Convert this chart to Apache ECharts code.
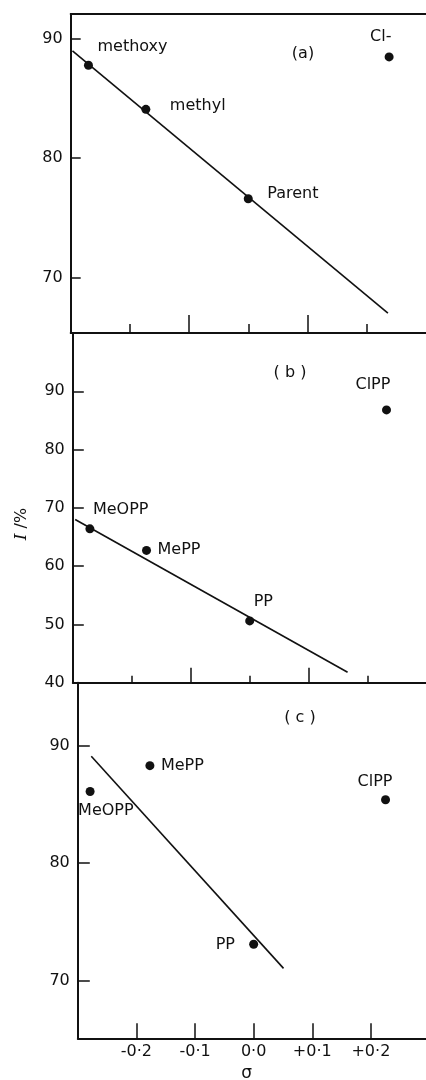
<!DOCTYPE html>
<html>
<head>
<meta charset="utf-8">
<script src="https://cdn.jsdelivr.net/npm/echarts@6/dist/echarts.min.js"></script>
<style>
  html, body { margin: 0; padding: 0; background: #fff; }
  #chart { width: 426px; height: 1080px; }
</style>
</head>
<body>
<div id="chart"></div>
<script>
// data
var sigmaTicks = [-0.2, -0.1, 0, 0.1, 0.2];

var namesA = ['methoxy', 'methyl', 'Parent', 'Cl-'];
var sigmaA = [-0.27, -0.173, 0.0, 0.238];
var valuesA = [87.8, 84.1, 76.6, 88.5];
var fitSigmaA = [-0.297, 0.236];
var fitValuesA = [89.0, 67.0];
var yTicksA = [70, 80, 90];

var namesB = ['MeOPP', 'MePP', 'PP', 'ClPP'];
var sigmaB = [-0.271, -0.175, 0.0, 0.232];
var valuesB = [66.4, 62.7, 50.6, 86.8];
var fitSigmaB = [-0.296, 0.166];
var fitValuesB = [68.0, 41.8];
var yTicksB = [50, 60, 70, 80, 90];
var yLabelsB = [40, 50, 60, 70, 80, 90];

var namesC = ['MeOPP', 'MePP', 'PP', 'ClPP'];
var sigmaC = [-0.279, -0.177, 0.0, 0.225];
var valuesC = [86.1, 88.3, 73.1, 85.4];
var fitSigmaC = [-0.277, 0.051];
var fitValuesC = [89.1, 71.05];
var yTicksC = [70, 80, 90];

// label offsets (px) from each point
var offA = [[9, -18], [24, -3], [19, -5], [-19, -20]];
var offB = [[3, -19], [11, -1], [4, -19], [-31, -25]];
var offC = [[-12, 19], [11, 0], [-38, 1], [-28, -18]];

var font = 'DejaVu Sans';
var black = '#111';

function pts(xs, ys, names, offs) {
    return xs.map(function (x, i) {
        return {
            value: [x, ys[i]],
            name: names ? names[i] : '',
            label: offs ? { offset: offs[i] } : undefined
        };
    });
}

function fmtSigma(v) {
    var s = Math.abs(v).toFixed(1).replace('.', '·');
    if (v > 0.001) return '+' + s;
    if (v < -0.001) return '-' + s;
    return s;
}

var dom = document.getElementById('chart');
var myChart = echarts.init(dom);

// x range -0.3 .. 0.3, frame runs to the right edge of the page
var grids = [
    { left: 70.7, top: 14, width: 355.1, height: 319, outerBoundsMode: 'none' },
    { left: 72.8, top: 333, width: 353.8, height: 349.7, outerBoundsMode: 'none' },
    { left: 77.8, top: 682.7, width: 351.7, height: 355.6, outerBoundsMode: 'none' }
];

function mainX(gi, showLabels, tickVals, tickLen) {
    return {
        type: 'value', gridIndex: gi, position: 'bottom',
        min: -0.3, max: 0.3,
        axisLine: { show: true, onZero: false, lineStyle: { color: black, width: 2 } },
        axisTick: { show: true, inside: true, length: tickLen, customValues: tickVals,
            lineStyle: { color: black, width: 1.5 } },
        axisLabel: { show: showLabels, customValues: sigmaTicks, margin: 6,
            formatter: fmtSigma, color: black, fontFamily: font, fontSize: 16 },
        splitLine: { show: false }
    };
}

function tickX(gi, tickVals, tickLen) {
    return {
        type: 'value', gridIndex: gi, position: 'bottom',
        min: -0.3, max: 0.3,
        axisLine: { show: false },
        axisTick: { show: true, inside: true, length: tickLen, customValues: tickVals,
            lineStyle: { color: black, width: 1.5 } },
        axisLabel: { show: false },
        splitLine: { show: false }
    };
}

function leftY(gi, min, max, ticks, labels, tickLen) {
    return {
        type: 'value', gridIndex: gi, min: min, max: max,
        axisLine: { show: true, onZero: false, lineStyle: { color: black, width: 2 } },
        axisTick: { show: true, inside: true, length: tickLen, customValues: ticks,
            lineStyle: { color: black, width: 1.5 } },
        axisLabel: { show: true, customValues: labels, margin: 8,
            color: black, fontFamily: font, fontSize: 16 },
        splitLine: { show: false }
    };
}

var xA = mainX(0, false, [-0.2, 0, 0.2], 9);
var xAlong = tickX(0, [-0.1, 0.1], 18);
var xAtop = {
    type: 'value', gridIndex: 0, position: 'top', min: -0.3, max: 0.3,
    axisLine: { show: true, onZero: false, lineStyle: { color: black, width: 2 } },
    axisTick: { show: false }, axisLabel: { show: false }, splitLine: { show: false }
};
var xB = mainX(1, false, [-0.2, 0, 0.2], 7);
var xBlong = tickX(1, [-0.1, 0.1], 15);
var xC = mainX(2, true, sigmaTicks, 15);
xC.name = 'σ';
xC.nameLocation = 'middle';
xC.nameGap = 27;
xC.nameTextStyle = { color: black, fontFamily: font, fontSize: 17, padding: [0, 14, 0, 0] };

var pointLabel = {
    show: true, position: 'inside', align: 'left', verticalAlign: 'middle',
    formatter: '{b}', color: black, fontFamily: font, fontSize: 16
};

function scatter(xi, yi, data) {
    return {
        type: 'scatter', xAxisIndex: xi, yAxisIndex: yi,
        symbolSize: 9, itemStyle: { color: black, opacity: 1 },
        label: pointLabel, data: data, z: 3
    };
}

function fitLine(xi, yi, data) {
    return {
        type: 'line', xAxisIndex: xi, yAxisIndex: yi,
        showSymbol: false, symbol: 'none',
        lineStyle: { color: black, width: 1.6 }, data: data, z: 2
    };
}

function panelTitle(text, x, y) {
    return {
        text: text, left: x, top: y, textAlign: 'center', textVerticalAlign: 'middle',
        textStyle: { color: black, fontFamily: font, fontSize: 16, fontWeight: 'normal' }
    };
}

option = {
    backgroundColor: '#fff',
    animation: false,
    grid: grids,
    title: [
        panelTitle('(a)', 298, 49),
        panelTitle('( b )', 285, 368),
        panelTitle('( c )', 295, 713)
    ],
    xAxis: [xA, xAlong, xAtop, xB, xBlong, xC],
    yAxis: [
        leftY(0, 65.33, 92.1, yTicksA, yTicksA, 10),
        leftY(1, 40, 100, yTicksB, yLabelsB, 11),
        leftY(2, 65.1, 95.36, yTicksC, yTicksC, 12)
    ],
    graphic: [{
        type: 'text', x: 22, y: 524, rotation: Math.PI / 2,
        style: {
            text: '{i|I} /%', align: 'center', verticalAlign: 'middle',
            fill: black, fontFamily: font, fontSize: 16,
            rich: { i: { fontFamily: 'DejaVu Serif', fontStyle: 'italic', fontSize: 17, fill: black } }
        }
    }],
    series: [
        fitLine(0, 0, pts(fitSigmaA, fitValuesA)),
        scatter(0, 0, pts(sigmaA, valuesA, namesA, offA)),
        fitLine(3, 1, pts(fitSigmaB, fitValuesB)),
        scatter(3, 1, pts(sigmaB, valuesB, namesB, offB)),
        fitLine(5, 2, pts(fitSigmaC, fitValuesC)),
        scatter(5, 2, pts(sigmaC, valuesC, namesC, offC))
    ]
};

if (option && typeof option === "object") {
    myChart.setOption(option, true);
}
</script>
</body>
</html>
